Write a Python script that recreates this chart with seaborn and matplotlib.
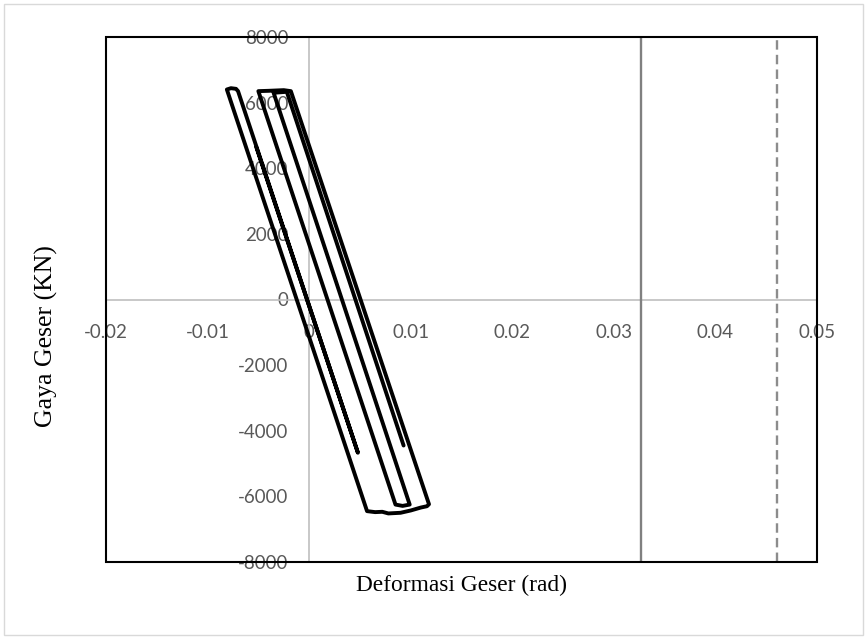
import matplotlib
matplotlib.use("Agg")
import matplotlib.pyplot as plt
from matplotlib.patches import Rectangle
import numpy as np
import pandas as pd
import seaborn as sns

# ---- data ----
deformation = [-0.0052, 0.0048, -0.0070, -0.0072, -0.0077, -0.0081,
               0.0057, 0.0065, 0.0072, 0.0078, 0.0090, 0.0100, 0.0110,
               0.0116, 0.0118, -0.0018, -0.0025, -0.0040, -0.0050,
               0.0085, 0.0092, 0.0099, -0.0035, -0.0022, 0.0093]
force = [4640, -4670, 6350, 6420, 6440, 6400,
         -6450, -6480, -6470, -6520, -6500, -6430, -6340,
         -6300, -6240, 6350, 6380, 6360, 6350,
         -6250, -6290, -6250, 6300, 6330, -4450]

x_ticks = [-0.02, -0.01, 0.0, 0.01, 0.02, 0.03, 0.04, 0.05]
x_tick_labels = ["-0.02", "-0.01", "0", "0.01", "0.02", "0.03", "0.04", "0.05"]
y_ticks = [-8000, -6000, -4000, -2000, 0, 2000, 4000, 6000, 8000]
y_tick_labels = ["-8000", "-6000", "-4000", "-2000", "0", "2000", "4000", "6000", "8000"]
limit_solid = 0.0327
limit_dashed = 0.0461

df = pd.DataFrame({"Deformasi": deformation, "Gaya": force})

sns.set_theme(style="white")
plt.rcParams["font.family"] = ["Lato", "DejaVu Sans"]

fig = plt.figure(figsize=(8.67, 6.39), dpi=100)
ax = fig.add_axes([106 / 867, (639 - 562) / 639, 711 / 867, 525 / 639])

sns.lineplot(data=df, x="Deformasi", y="Gaya", sort=False, estimator=None,
             color="black", lw=2.8, ax=ax, zorder=3,
             solid_joinstyle="round", solid_capstyle="round")

ax.axvline(limit_solid, color="#808080", lw=1.7, zorder=2)
ax.axvline(limit_dashed, color="#8c8c8c", lw=1.7, dashes=(4, 2.2), zorder=2)

ax.set_xlim(-0.02, 0.05)
ax.set_ylim(-8000, 8000)
ax.set_xticks(x_ticks)
ax.set_xticklabels(x_tick_labels)
ax.set_yticks(y_ticks)
ax.set_yticklabels(y_tick_labels)

for side in ["top", "right"]:
    ax.spines[side].set_visible(False)
ax.spines["left"].set_position(("data", 0))
ax.spines["bottom"].set_position(("data", 0))
for side in ["left", "bottom"]:
    ax.spines[side].set_color("#bfbfbf")
    ax.spines[side].set_linewidth(1.2)
    ax.spines[side].set_zorder(1.5)

ax.tick_params(axis="both", length=0, colors="#595959", labelsize=13.5)
ax.tick_params(axis="y", pad=15)
ax.tick_params(axis="x", pad=18)

ax.add_patch(Rectangle((0, 0), 1, 1, transform=ax.transAxes, fill=False,
                       ec="black", lw=1.5, clip_on=False, zorder=4))

ax.set_xlabel("")
ax.set_ylabel("")
fig.text(462 / 867, 1 - 585 / 639, "Deformasi Geser (rad)", ha="center", va="center",
         family=["Liberation Serif", "DejaVu Serif"], fontsize=16.8, color="black")
fig.text(46 / 867, 1 - 336 / 639, "Gaya Geser (KN)", ha="center", va="center",
         rotation=90, family=["Liberation Serif", "DejaVu Serif"], fontsize=18.5,
         color="black")

fig.patches.append(Rectangle((4 / 867, 4 / 639), 859 / 867, 631 / 639,
                             transform=fig.transFigure, fill=False,
                             ec="#d9d9d9", lw=1.0))

fig.savefig("out.png", dpi=100)
